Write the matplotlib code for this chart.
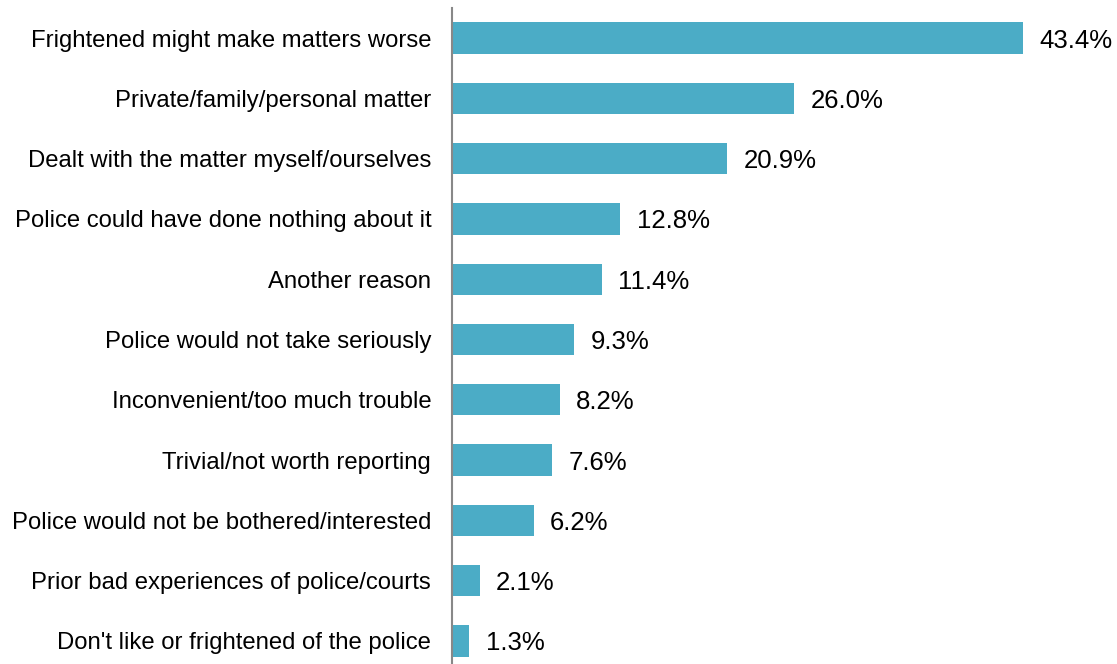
import matplotlib.pyplot as plt

plt.rcParams['font.family'] = ['Liberation Sans', 'DejaVu Sans']

reasons = ['Frightened might make matters worse',
           'Private/family/personal matter',
           'Dealt with the matter myself/ourselves',
           'Police could have done nothing about it',
           'Another reason',
           'Police would not take seriously',
           'Inconvenient/too much trouble',
           'Trivial/not worth reporting',
           'Police would not be bothered/interested',
           'Prior bad experiences of police/courts',
           "Don't like or frightened of the police"]
pct = [43.4, 26.0, 20.9, 12.8, 11.4, 9.3, 8.2, 7.6, 6.2, 2.1, 1.3]

bar_color = '#4BACC6'

fig = plt.figure(figsize=(11.17, 6.64), dpi=100)
ax = fig.add_axes([452 / 1117, -7 / 664, 665 / 1117, 663 / 664])

ypos = list(range(len(reasons)))
ax.barh(ypos, pct, height=0.52, color=bar_color)
for y, v in zip(ypos, pct):
    ax.text(v + 1.25, y, f'{v:.1f}%', va='center_baseline', ha='left', fontsize=18.5)

ax.set_xlim(0, 665 / 13.16)
ax.set_ylim(len(reasons) - 0.5, -0.5)
ax.set_yticks(ypos)
ax.set_yticklabels(reasons, fontsize=17.2)
ax.tick_params(axis='y', length=0, pad=15)
ax.set_xticks([])
for s in ['top', 'right', 'bottom']:
    ax.spines[s].set_visible(False)
ax.spines['left'].set_color('#888888')
ax.spines['left'].set_linewidth(1.5)

fig.savefig('out.png', dpi=100)
